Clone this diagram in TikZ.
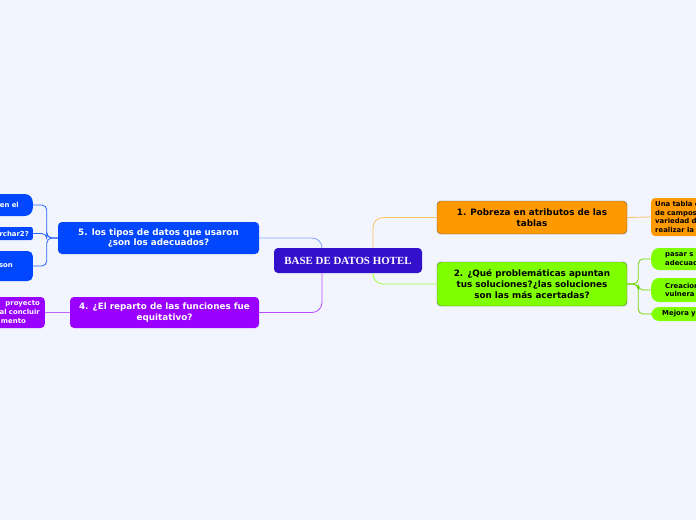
\documentclass[tikz,border=0pt]{standalone}
\usepackage{fontspec}
\setmainfont{DejaVu Sans}
\newfontfamily\titlefont{Liberation Serif}
\definecolor{bgcol}{RGB}{242,245,253}
\definecolor{rootcol}{RGB}{51,17,204}
\definecolor{orangecol}{RGB}{255,153,0}
\definecolor{greencol}{RGB}{128,255,0}
\definecolor{bluecol}{RGB}{0,71,255}
\definecolor{purplecol}{RGB}{153,0,255}
\begin{document}
\begin{tikzpicture}[x=1pt,y=-1pt,
  topic/.style={rounded corners=4pt,align=center,inner sep=0pt,
    font=\bfseries\fontsize{8.8}{10.6}\selectfont},
  leaf/.style={rounded corners=8pt,inner sep=0pt,
    font=\bfseries\fontsize{6.9}{8.8}\selectfont},
  link/.style={line width=0.8pt,rounded corners=10pt}]
\useasboundingbox (0,0) rectangle (696,520);
\clip (0,0) rectangle (696,520);
\fill[bgcol] (0,0) rectangle (696,520);
% main topics
\node[topic,fill=rootcol,text=white,minimum width=148pt,minimum height=25pt,
  font=\titlefont\bfseries\fontsize{10.9}{12}\selectfont] (root) at (348,260.5) {BASE DE DATOS HOTEL};
\node[topic,fill=orangecol,draw=black!65,minimum width=190pt,minimum height=33pt] (t1) at (532,217.5)
  {1. Pobreza en atributos de las\\tablas};
\node[topic,fill=greencol,draw=black!65,minimum width=190pt,minimum height=44pt] (t2) at (532,284)
  {2. ¿Qué problemáticas apuntan\\tus soluciones?¿las soluciones\\son las más acertadas?};
\node[topic,fill=bluecol,text=white,minimum width=201pt,minimum height=32pt] (t5) at (158.5,238)
  {5. los tipos de datos que usaron\\¿son los adecuados?};
\node[topic,fill=purplecol,text=white,minimum width=189pt,minimum height=31pt] (t4) at (164.5,312.5)
  {4. ¿El reparto de las funciones fue\\equitativo?};
% leaves on the right
\node[leaf,fill=orangecol,rounded corners=4pt,anchor=west,minimum width=90pt,minimum height=38pt,
  align=left,text width=82pt,inner xsep=4pt,font=\bfseries\fontsize{6.9}{8.5}\selectfont] (t11) at (651,217)
  {Una tabla c\\de campos\\variedad d\\realizar la};
\node[leaf,fill=greencol,anchor=west,minimum width=90pt,minimum height=22pt,
  align=left,text width=76pt,inner xsep=14pt] (t21) at (651,259) {pasar s\\adecuad};
\node[leaf,fill=greencol,anchor=west,minimum width=90pt,minimum height=24pt,
  align=left,text width=76pt,inner xsep=14pt] (t22) at (651,290) {Creacion\\vulnera};
\node[leaf,fill=greencol,anchor=west,minimum width=90pt,minimum height=14pt,
  align=left,text width=78pt,inner xsep=11pt] (t23) at (651,314) {Mejora y};
% leaves on the left
\node[leaf,fill=bluecol,text=white,anchor=east,minimum width=90pt,minimum height=22pt,
  align=right,text width=76pt,inner xsep=14pt] (t51) at (33,205) {en el};
\node[leaf,fill=bluecol,text=white,anchor=east,rounded corners=2pt,minimum width=90pt,minimum height=13pt,
  align=right,text width=84pt,inner xsep=4pt] (t52) at (33,233.5) {rchar2?};
\node[leaf,fill=bluecol,text=white,anchor=east,rounded corners=5pt,minimum width=90pt,minimum height=30pt,
  align=right,text width=70pt,inner xsep=20pt] (t53) at (33,266) {son};
\node[leaf,fill=purplecol,text=white,anchor=east,rounded corners=4pt,minimum width=90pt,minimum height=31pt,
  align=right,text width=84pt,inner xsep=5pt,font=\bfseries\fontsize{6.9}{9}\selectfont] (t41) at (45,312.5)
  {proyecto\hspace*{3pt}\\al concluir\\mento\hspace*{14pt}};
% connectors
\draw[link,orangecol!60] ([xshift=25pt]root.north) |- (t1.west);
\draw[link,greencol!75!white] ([xshift=25pt]root.south) |- (t2.west);
\draw[link,bluecol!50!white] ([xshift=-26pt]root.north) |- (t5.east);
\draw[link,purplecol!70!white] ([xshift=-26pt]root.south) |- (t4.east);
\draw[link,orangecol!60] (t1.east) -- (t11.west);
\foreach \n in {t21,t22,t23}
  \draw[link,greencol!85!black,rounded corners=5pt] (t2.east) -- ++(11,0) |- (\n.west);
\foreach \n in {t51,t52,t53}
  \draw[link,bluecol!85!white,rounded corners=5pt] (t5.west) -- ++(-11,0) |- (\n.east);
\draw[link,purplecol!60!white] (t4.west) -- (t41.east);
\end{tikzpicture}
\end{document}
